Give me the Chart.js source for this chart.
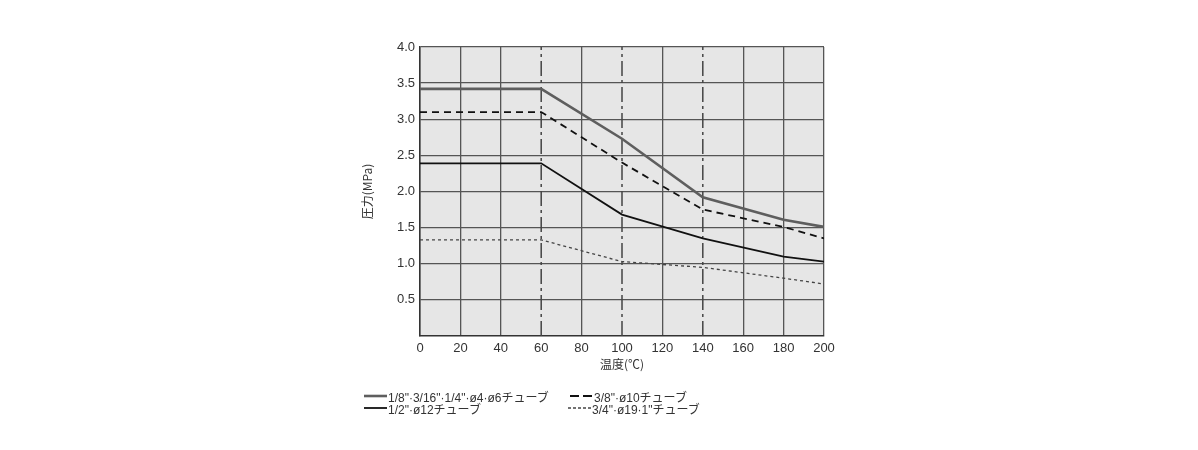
<!DOCTYPE html>
<html>
<head>
<meta charset="utf-8">
<script src="https://cdn.jsdelivr.net/npm/chart.js@4/dist/chart.umd.min.js"></script>
<style>
  body { margin: 0; background: #fff; font-family: "Liberation Sans", Arial, sans-serif; }
  #wrap { position: relative; width: 1198px; height: 450px; }
  #legend { position: absolute; left: 364px; top: 390px; font-size: 12px; color: #333; font-family: "Liberation Sans", "Noto Sans CJK JP", sans-serif; }
  .item { position: absolute; white-space: nowrap; display: flex; align-items: center; height: 12px; }
  .item svg { margin-right: 1px; }
</style>
</head>
<body>
<div id="wrap">
  <canvas id="myChart" width="1198" height="450"></canvas>
  <div id="legend"></div>
</div>
<script>
const temps = [0, 60, 100, 140, 180, 200];
const seriesA = [3.42, 3.42, 2.73, 1.92, 1.61, 1.51];
const seriesB = [3.10, 3.10, 2.40, 1.75, 1.51, 1.35];
const seriesC = [2.39, 2.39, 1.68, 1.35, 1.10, 1.03];
const seriesD = [1.33, 1.33, 1.03, 0.95, 0.80, 0.72];
const labels = [
    '1/8"·3/16"·1/4"·ø4·ø6チューブ',
    '3/8"·ø10チューブ',
    '1/2"·ø12チューブ',
    '3/4"·ø19·1"チューブ'
];
const markerTemps = [60, 100, 140];

const toPoints = (ys) => temps.map((t, i) => ({ x: t, y: ys[i] }));

const lineStyles = [
    { color: '#5e5e5e', width: 2.6, dash: [] },
    { color: '#111', width: 1.8, dash: [7, 5] },
    { color: '#111', width: 1.8, dash: [] },
    { color: '#444', width: 1.3, dash: [3, 3] }
];
const seriesData = [seriesA, seriesB, seriesC, seriesD];

const datasets = seriesData.map((s, i) => ({
    label: labels[i],
    data: toPoints(s),
    borderColor: lineStyles[i].color,
    borderWidth: lineStyles[i].width,
    borderDash: lineStyles[i].dash
}));
markerTemps.forEach(t => {
    datasets.push({
        label: 'marker' + t,
        data: [{ x: t, y: 0 }, { x: t, y: 4 }],
        borderColor: '#444',
        borderWidth: 1.5,
        borderDash: [15, 4, 3, 4]
    });
});

const plotBg = {
    id: 'plotBg',
    beforeDraw(chart) {
        const a = chart.chartArea;
        const ctx = chart.ctx;
        ctx.save();
        ctx.fillStyle = '#e6e6e6';
        ctx.fillRect(a.left, a.top, a.right - a.left, a.bottom - a.top);
        ctx.restore();
    }
};

const gridColor = (ctx) => markerTemps.includes(ctx.tick && ctx.tick.value) ? 'rgba(0,0,0,0)' : '#555';

new Chart(document.getElementById('myChart'), {
    type: 'line',
    data: { datasets: datasets },
    plugins: [plotBg],
    options: {
        responsive: false,
        animation: false,
        elements: { point: { radius: 0 }, line: { tension: 0 } },
        layout: { padding: { left: 358, right: 374, top: 47, bottom: 74 } },
        plugins: { legend: { display: false }, tooltip: { enabled: false } },
        scales: {
            x: {
                type: 'linear', min: 0, max: 200,
                afterFit: s => { s.height = 40; },
                grid: { color: gridColor, lineWidth: 1.3, drawTicks: false },
                border: { color: '#333', width: 1.5 },
                ticks: { stepSize: 20, color: '#333', padding: 5, font: { size: 13, family: 'Liberation Sans' } },
                title: { display: true, text: '温度(℃)', color: '#333', padding: { top: 5 }, font: { size: 12, family: 'Noto Sans CJK JP' } }
            },
            y: {
                min: 0, max: 4,
                afterFit: s => { s.width = 62; },
                grid: { color: '#555', lineWidth: 1.3, drawTicks: false },
                border: { color: '#333', width: 1.5 },
                ticks: {
                    stepSize: 0.5, color: '#333', padding: 5, font: { size: 13, family: 'Liberation Sans' },
                    callback: v => v === 0 ? null : v.toFixed(1)
                },
                title: { display: true, text: '圧力(MPa)', color: '#333', padding: { top: 2, bottom: 0 }, font: { size: 12, family: 'Noto Sans CJK JP' } }
            }
        }
    }
});

// legend built from the same labels and styles
const legend = document.getElementById('legend');
const legendPos = [
    { left: 0, top: 0, dash: '' },
    { left: 206, top: 0, dash: '9 4' },
    { left: 0, top: 12, dash: '' },
    { left: 204, top: 12, dash: '3 2' }
];
labels.forEach((txt, i) => {
    const it = document.createElement('div');
    it.className = 'item';
    it.style.left = legendPos[i].left + 'px';
    it.style.top = legendPos[i].top + 'px';
    const st = lineStyles[i];
    it.innerHTML = '<svg width="23" height="6"><line x1="0" y1="3" x2="23" y2="3" stroke="' + st.color +
        '" stroke-width="' + st.width + '" stroke-dasharray="' + legendPos[i].dash + '"/></svg>';
    it.appendChild(document.createTextNode(txt));
    legend.appendChild(it);
});
</script>
</body>
</html>
